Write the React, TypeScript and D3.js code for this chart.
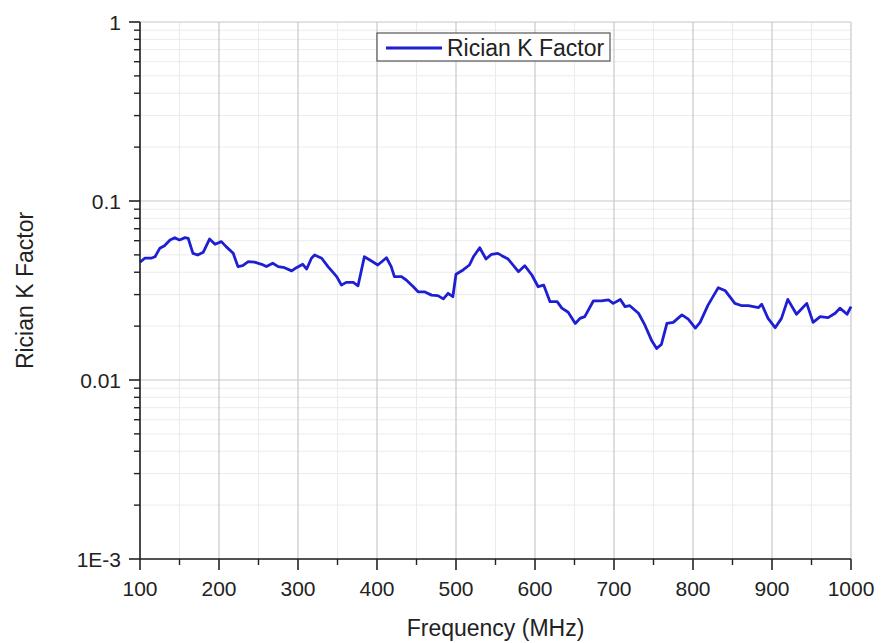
import React from "react";
import * as d3 from "d3";

const freqs = [100,106,114,119,125,131,138,144,150,157,161,167,173,180,188,195,203,209,218,224,230,237,245,254,260,268,275,283,292,298,306,311,317,321,330,338,349,355,361,370,376,384,393,401,412,418,422,431,437,446,452,460,469,477,484,490,496,500,509,517,522,530,538,545,553,558,566,579,587,596,604,611,619,628,634,642,651,657,663,674,684,693,699,708,714,720,731,739,748,754,760,767,775,786,794,803,809,819,832,841,853,862,870,883,887,895,904,912,920,931,944,952,961,971,980,986,995,1000];
const kFactor = [0.0455,0.0479,0.0479,0.0488,0.0544,0.0563,0.0606,0.0624,0.0606,0.0624,0.0619,0.051,0.0499,0.0517,0.0613,0.0573,0.0593,0.0556,0.051,0.043,0.0435,0.0458,0.0455,0.0443,0.043,0.0449,0.043,0.0424,0.0407,0.0424,0.0443,0.0417,0.0479,0.0499,0.0479,0.043,0.0378,0.0339,0.0351,0.0351,0.0336,0.0488,0.0462,0.0439,0.0482,0.043,0.0378,0.0378,0.0362,0.0332,0.0311,0.0311,0.0298,0.0296,0.0284,0.0305,0.0292,0.039,0.0412,0.0439,0.0488,0.0548,0.0474,0.0504,0.051,0.0495,0.0474,0.0403,0.0435,0.0386,0.0332,0.0339,0.0274,0.0274,0.0252,0.0239,0.0207,0.0221,0.0226,0.0277,0.0277,0.028,0.0268,0.0282,0.0257,0.026,0.0236,0.0203,0.0165,0.015,0.0158,0.0207,0.021,0.0231,0.0219,0.0195,0.021,0.0262,0.0328,0.0315,0.0268,0.026,0.026,0.0254,0.0265,0.0221,0.0196,0.0221,0.0282,0.0233,0.0268,0.021,0.0226,0.0223,0.0236,0.0252,0.0233,0.0257];
const xTicks = [100,200,300,400,500,600,700,800,900,1000];
const xMinor = [150,250,350,450,550,650,750,850,950];
const yTicks = [0.001,0.01,0.1,1];
const yTickLabels = ["1E-3","0.01","0.1","1"];
const seriesName = "Rician K Factor";
const xTitle = "Frequency (MHz)";
const yTitle = "Rician K Factor";

export default function App() {
  const W = 881, H = 643;
  const left = 140, right = 851, top = 22, bottom = 559;
  const x = d3.scaleLinear().domain([100, 1000]).range([left, right]);
  const y = d3.scaleLog().domain([0.001, 1]).range([bottom, top]);
  const yMinor: number[] = [];
  for (let e = -3; e < 0; e++) for (let m = 2; m <= 9; m++) yMinor.push(m * Math.pow(10, e));
  const data = freqs.map((f, i) => [f, kFactor[i]] as [number, number]);
  const line = d3.line<[number, number]>().x(d => x(d[0])).y(d => y(d[1]));
  const font = "Arial, 'Liberation Sans', sans-serif";
  const blue = "#1e1ed2";
  return (
    <svg width={W} height={H} style={{ position: "absolute", left: 0, top: 0, background: "#fff" }} fontFamily={font}>
      {yMinor.map(v => (
        <line key={"ym" + v} x1={left} x2={right} y1={y(v)} y2={y(v)} stroke="#ebebeb" strokeWidth={1} />
      ))}
      {xMinor.map(v => (
        <line key={"xm" + v} x1={x(v)} x2={x(v)} y1={top} y2={bottom} stroke="#ebebeb" strokeWidth={1} />
      ))}
      {yTicks.map(v => (
        <line key={"yg" + v} x1={left} x2={right} y1={y(v)} y2={y(v)} stroke="#c8c8c8" strokeWidth={1.2} />
      ))}
      {xTicks.map(v => (
        <line key={"xg" + v} x1={x(v)} x2={x(v)} y1={top} y2={bottom} stroke="#c8c8c8" strokeWidth={1.2} />
      ))}
      <path d={line(data) || ""} fill="none" stroke={blue} strokeWidth={2.8} strokeLinejoin="round" />
      <line x1={left} x2={left} y1={top} y2={bottom} stroke="#222" strokeWidth={1.6} />
      <line x1={left} x2={right} y1={bottom} y2={bottom} stroke="#222" strokeWidth={1.6} />
      {yTicks.map((v, i) => (
        <g key={"yt" + v}>
          <line x1={left - 11} x2={left} y1={y(v)} y2={y(v)} stroke="#222" strokeWidth={1.6} />
          <text x={121} y={y(v)} dy="0.36em" textAnchor="end" fontSize={21} fill="#222">{yTickLabels[i]}</text>
        </g>
      ))}
      {yMinor.map(v => (
        <line key={"ymt" + v} x1={left - 6} x2={left} y1={y(v)} y2={y(v)} stroke="#222" strokeWidth={1.4} />
      ))}
      {xTicks.map(v => (
        <g key={"xt" + v}>
          <line x1={x(v)} x2={x(v)} y1={bottom} y2={bottom + 11} stroke="#222" strokeWidth={1.6} />
          <text x={x(v)} y={596} textAnchor="middle" fontSize={21} fill="#222">{v}</text>
        </g>
      ))}
      {xMinor.map(v => (
        <line key={"xmt" + v} x1={x(v)} x2={x(v)} y1={bottom} y2={bottom + 6} stroke="#222" strokeWidth={1.4} />
      ))}
      <text x={x(550)} y={636} textAnchor="middle" fontSize={23} fill="#222">{xTitle}</text>
      <text transform={`translate(33, ${(top + bottom) / 2}) rotate(-90)`} textAnchor="middle" fontSize={23} fill="#222">{yTitle}</text>
      <rect x={377} y={33} width={233} height={28} fill="#fff" stroke="#555" strokeWidth={1.2} />
      <line x1={386} x2={442} y1={48} y2={48} stroke={blue} strokeWidth={2.8} />
      <text x={447} y={56} fontSize={23} fill="#222">{seriesName}</text>
    </svg>
  );
}
